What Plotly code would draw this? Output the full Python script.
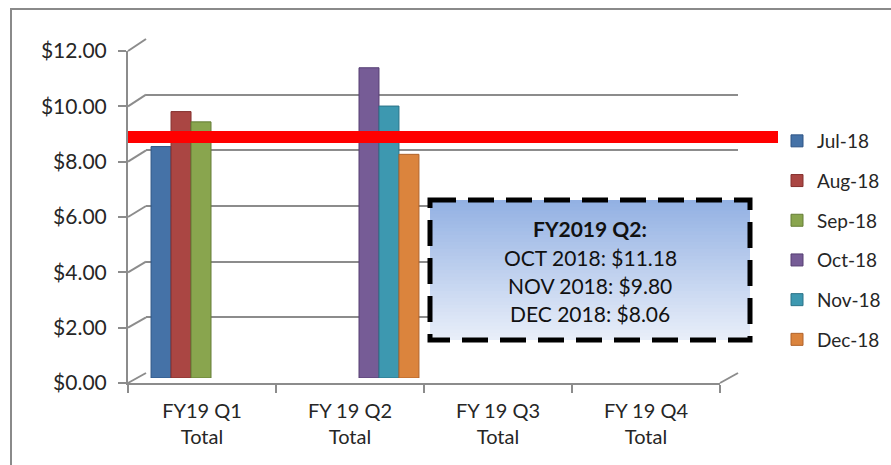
import plotly.graph_objects as go

# ---------------- data ----------------
categories = ["FY19 Q1<br>Total", "FY 19 Q2<br>Total", "FY 19 Q3<br>Total", "FY 19 Q4<br>Total"]
series_names = ["Jul-18", "Aug-18", "Sep-18", "Oct-18", "Nov-18", "Dec-18"]
jul = [8.34, None, None, None]
aug = [9.60, None, None, None]
sep = [9.23, None, None, None]
oct_ = [None, 11.18, None, None]
nov = [None, 9.80, None, None]
dec = [None, 8.06, None, None]
series_values = [jul, aug, sep, oct_, nov, dec]
y_ticks = [0, 2, 4, 6, 8, 10, 12]
target_value = 8.89
box_title = "FY2019 Q2:"
box_labels = ["OCT 2018", "NOV 2018", "DEC 2018"]

# ---------------- style ----------------
colors = ["#4572A7", "#AA4643", "#89A54E", "#765C96", "#3D98B0", "#DB843D"]
edges = ["#2f5585", "#85302e", "#657d36", "#563f73", "#2a7388", "#b0622a"]
FONT = "Lato"
TXT = "#262626"
GRID = "#8c8c8c"

W, H = 891, 465
def px(x):
    return x / W
def py(y):
    return (H - y) / H

# geometry (pixels): front plane, back wall, bar plane
FX0, FX1, FY0, FY1 = 128, 720, 383, 51
BX0, BX1, BY0, BY1 = 146, 738, 373, 39
MX0, MX1, MY0, MY1 = 137, 729, 378, 45
YMAX = 12

fig = go.Figure()

# invisible anchors so every subplot exists
fig.add_trace(go.Scatter(x=categories, y=[None] * 4, xaxis="x", yaxis="y",
                         showlegend=False, hoverinfo="skip"))
fig.add_trace(go.Scatter(x=[0], y=[None], xaxis="x2", yaxis="y2",
                         showlegend=False, hoverinfo="skip"))

for i, (name, vals) in enumerate(zip(series_names, series_values)):
    fig.add_trace(go.Bar(
        x=categories, y=vals, name=name, xaxis="x3", yaxis="y3",
        marker=dict(color=colors[i], line=dict(color=edges[i], width=1)),
        legendgroup=name,
    ))

shapes = []
# outer chart border
shapes.append(dict(type="rect", xref="paper", yref="paper",
                   x0=px(11), x1=px(905), y0=py(9), y1=py(480),
                   line=dict(color="#8a8a8a", width=2), layer="below"))

# depth diagonals from front ticks to back wall gridlines
def yf(v):
    return py(FY0 - v * (FY0 - FY1) / YMAX)
def yb(v):
    return py(BY0 - v * (BY0 - BY1) / YMAX)
for v in y_ticks:
    shapes.append(dict(type="line", xref="paper", yref="paper",
                       x0=px(FX0), y0=yf(v), x1=px(BX0), y1=yb(v),
                       line=dict(color=GRID, width=2), layer="below"))
shapes.append(dict(type="line", xref="paper", yref="paper",
                   x0=px(FX1), y0=yf(0), x1=px(BX1), y1=yb(0),
                   line=dict(color=GRID, width=2), layer="below"))

# red target line
shapes.append(dict(type="line", xref="paper", yref="y",
                   x0=px(128), x1=px(778), y0=target_value, y1=target_value,
                   line=dict(color="#FF0000", width=12), layer="above"))

# gradient call-out box
BL, BR, BT, BB = 430, 750, 200, 340
top_rgb = (0x93, 0xB1, 0xE3)
bot_rgb = (0xE8, 0xEE, 0xF9)
N = 40
for k in range(N):
    t = k / (N - 1)
    c = tuple(int(round(a + (b - a) * t)) for a, b in zip(top_rgb, bot_rgb))
    y0 = BT + (BB - BT) * k / N
    y1 = BT + (BB - BT) * (k + 1) / N + 0.6
    shapes.append(dict(type="rect", xref="paper", yref="paper",
                       x0=px(BL), x1=px(BR), y0=py(y0), y1=py(min(y1, BB)),
                       fillcolor="rgb(%d,%d,%d)" % c, line=dict(width=0),
                       layer="above"))
shapes.append(dict(type="rect", xref="paper", yref="paper",
                   x0=px(BL), x1=px(BR), y0=py(BT), y1=py(BB),
                   line=dict(color="black", width=5, dash="26px,12px"),
                   fillcolor="rgba(0,0,0,0)", layer="above"))

box_vals = [oct_[1], nov[1], dec[1]]
box_lines = ["<b>%s</b>" % box_title] + [
    "%s: $%.2f" % (lab, v) for lab, v in zip(box_labels, box_vals)]
line_y = [228, 257, 285, 313]
annotations = [dict(xref="paper", yref="paper", x=px((BL + BR) / 2), y=py(yy),
                    text=t, showarrow=False, xanchor="center", yanchor="middle",
                    align="center", font=dict(family=FONT, size=21, color="#111111"))
               for t, yy in zip(box_lines, line_y)]

fig.update_layout(
    width=W, height=H,
    margin=dict(l=0, r=0, t=0, b=0),
    paper_bgcolor="white", plot_bgcolor="rgba(0,0,0,0)",
    barmode="group", bargap=0.19, bargroupgap=0,
    font=dict(family=FONT, size=20, color=TXT),
    showlegend=True,
    legend=dict(x=px(777), y=py(122), xanchor="left", yanchor="top",
                font=dict(family=FONT, size=19, color=TXT),
                tracegroupgap=12, bgcolor="rgba(0,0,0,0)", traceorder="grouped"),
    xaxis=dict(domain=[px(FX0), px(FX1)], anchor="y", type="category",
               categoryorder="array", categoryarray=categories, range=[-0.5, 3.5],
               showline=True, linecolor=GRID, linewidth=2,
               ticks="outside", ticklen=8, tickwidth=2, tickcolor=GRID,
               tickson="boundaries", showgrid=False, zeroline=False,
               ticklabelstandoff=9,
               tickfont=dict(family=FONT, size=20, color=TXT), automargin=False),
    yaxis=dict(domain=[py(FY0), py(FY1)], anchor="x", range=[0, YMAX],
               tickvals=y_ticks, tickformat="$.2f",
               showline=True, linecolor=GRID, linewidth=2,
               ticks="outside", ticklen=8, tickwidth=2, tickcolor=GRID,
               ticklabelstandoff=7, showgrid=False, zeroline=False,
               tickfont=dict(family=FONT, size=21, color=TXT), automargin=False),
    xaxis2=dict(domain=[px(BX0), px(BX1)], anchor="y2", range=[-0.5, 3.5],
                visible=False),
    yaxis2=dict(domain=[py(BY0), py(BY1)], anchor="x2", range=[0, YMAX],
                tickvals=y_ticks, showgrid=True, gridcolor=GRID, gridwidth=2,
                showticklabels=False, ticks="", showline=False, zeroline=False),
    xaxis3=dict(domain=[px(MX0), px(MX1)], anchor="y3", type="category",
                categoryorder="array", categoryarray=categories, range=[-0.5, 3.5],
                visible=False),
    yaxis3=dict(domain=[py(MY0), py(MY1)], anchor="x3", range=[0, YMAX],
                visible=False),
    shapes=shapes,
    annotations=annotations,
)

fig.write_html("out.html", config={"displayModeBar": False},
               post_script="document.body.style.margin='0';document.body.style.overflow='hidden';")
